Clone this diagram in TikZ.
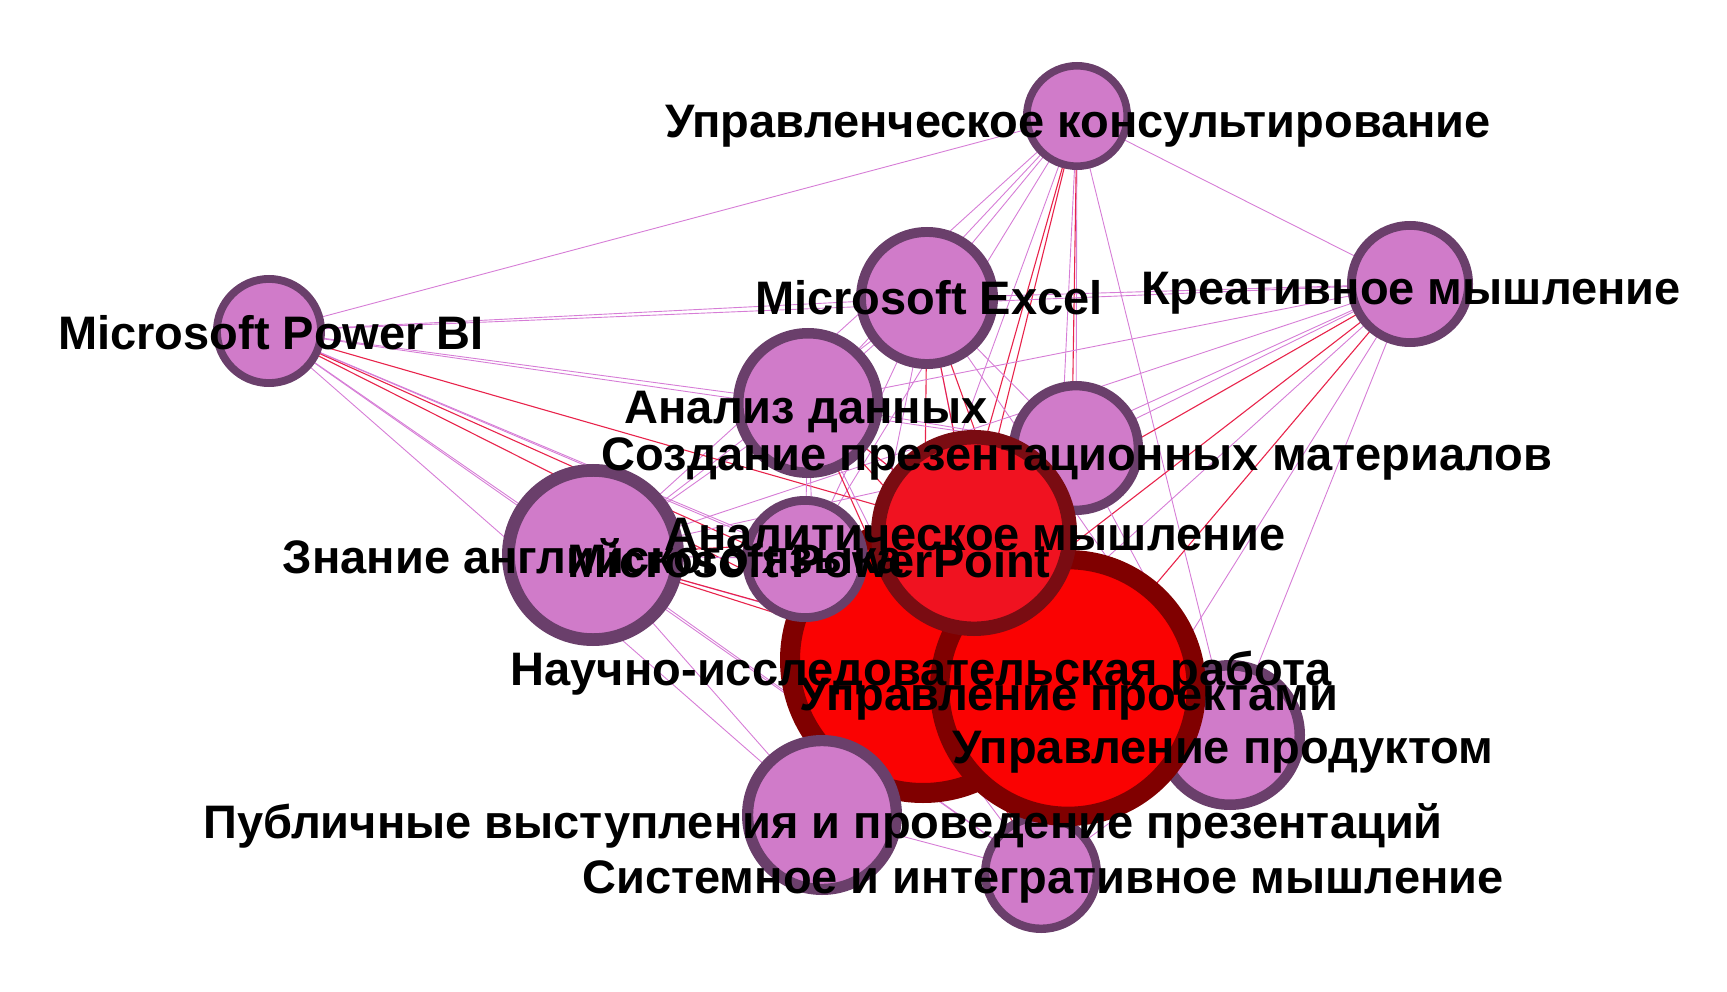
\documentclass[tikz,border=0pt]{standalone}
\usepackage{fontspec}
\setmainfont{Liberation Sans}
\pgfdeclarelayer{background}
\pgfsetlayers{background,main}
\definecolor{purpfill}{RGB}{208,123,201}
\definecolor{purpdraw}{RGB}{106,63,107}
\definecolor{redfill}{RGB}{250,2,2}
\definecolor{reddraw}{RGB}{128,0,0}
\definecolor{amfill}{RGB}{240,18,32}
\definecolor{amdraw}{RGB}{122,12,18}
\definecolor{edgeP}{RGB}{214,125,214}
\definecolor{edgeR}{RGB}{232,35,75}
\tikzset{
  skill/.style={circle,inner sep=0pt},
  lbl/.style={anchor=base,inner sep=0pt,font=\fontsize{47}{50}\selectfont\bfseries,text=black},
  eP/.style={draw=edgeP,line width=0.9pt},
  eR/.style={draw=edgeR,line width=1.1pt}
}
\newcommand{\sknode}[6]{%
  \pgfmathsetmacro\skLW{0.14*#4}%
  \pgfmathsetmacro\skMS{2*#4-\skLW}%
  \node[skill,fill=#5,draw=#6,line width=\skLW pt,minimum size=\skMS pt] (#1) at (#2,#3) {};}
\begin{document}
\begin{tikzpicture}[x=1pt,y=-1pt]
\useasboundingbox (0,0) rectangle (1727,992);
% nodes (drawing order matters)
\sknode{UK}{1077}{116}{54}{purpfill}{purpdraw}
\sknode{EX}{927}{298}{71}{purpfill}{purpdraw}
\sknode{KM}{1410}{284}{63}{purpfill}{purpdraw}
\sknode{PBI}{269}{331}{56}{purpfill}{purpdraw}
\sknode{AD}{808}{403}{75}{purpfill}{purpdraw}
\sknode{SP}{1076}{448}{67}{purpfill}{purpdraw}
\sknode{ZA}{593}{555}{91}{purpfill}{purpdraw}
\sknode{UPr}{1230}{735}{75}{purpfill}{purpdraw}
\sknode{SM}{1041}{873}{60}{purpfill}{purpdraw}
\sknode{NI}{923}{660}{143}{redfill}{reddraw}
\sknode{UP}{1068}{688}{138}{redfill}{reddraw}
\sknode{AM}{974}{533}{103}{amfill}{amdraw}
\sknode{PP}{805}{559}{63}{purpfill}{purpdraw}
\sknode{PV}{822}{815}{80}{purpfill}{purpdraw}
% edges
\begin{pgfonlayer}{background}
\foreach \a [count=\i] in {UK,EX,KM,PBI,AD,SP,ZA,PP,UPr,PV,SM}{
  \foreach \b [count=\j] in {UK,EX,KM,PBI,AD,SP,ZA,PP,UPr,PV,SM}{
    \ifnum\j>\i \draw[eP] (\a.center) -- (\b.center); \fi
  }
  \foreach \b in {NI,UP,AM}{ \draw[eR] (\a.center) -- (\b.center); }
}
\draw[eR] (NI.center) -- (UP.center);
\draw[eR] (NI.center) -- (AM.center);
\draw[eR] (UP.center) -- (AM.center);
\end{pgfonlayer}
% labels
\node[lbl] (lUK) at (1078,138) {Управленческое консультирование};
\node[lbl] (lEX) at (929,315) {Microsoft Excel};
\node[lbl] (lKM) at (1411,305) {Креативное мышление};
\node[lbl] (lPBI) at (271,349) {Microsoft Power BI};
\node[lbl] (lAD) at (806,423) {Анализ данных};
\node[lbl] (lSP) at (1077,470) {Создание презентационных материалов};
\node[lbl] (lZA) at (593,573) {Знание английского языка};
\node[lbl] (lAM) at (975,550) {Аналитическое мышление};
\node[lbl] (lPP) at (809,577) {Microsoft PowerPoint};
\node[lbl] (lNI) at (921,685) {Научно-исследовательская работа};
\node[lbl] (lUP) at (1069,710) {Управление проектами};
\node[lbl] (lUPr) at (1223,763) {Управление продуктом};
\node[lbl] (lPV) at (823,838) {Публичные выступления и проведение презентаций};
\node[lbl] (lSM) at (1043,893) {Системное и интегративное мышление};
\end{tikzpicture}
\end{document}
